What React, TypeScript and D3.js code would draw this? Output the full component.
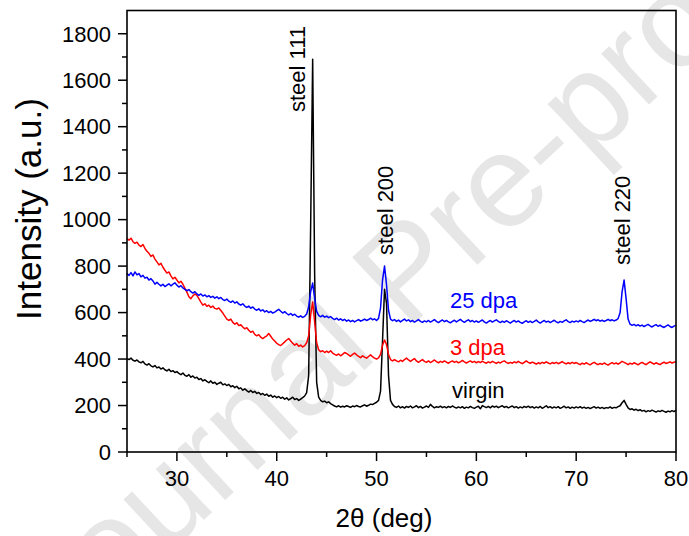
import React from 'react';
import * as d3 from 'd3';

// 2θ sampling grid: start 25°, step 0.2°, 276 points (25 … 80)
const X_START = 25;
const X_STEP = 0.2;

const virgin = [
  402,398,404,395,391, 396,388,384,390,379, 374,380,371,366,372, 362,366,357,362,354, 349,356,346,350,342,
  346,338,333,340,330, 326,333,322,327,318, 322,312,316,306,311, 304,298,306,296,300, 291,296,300,289,293,
  286,291,281,285,277, 283,272,276,266,272, 264,258,265,256,261, 252,256,247,252,244, 249,240,245,236,241,
  234,239,231,236,227, 233,224,230,236,226, 230,222,228,234,241, 256,330,980,1690,760, 300,236,222,216,219,
  212,216,208,203,198, 194,199,193,197,194, 199,196,192,198,195, 200,196,194,199,203, 197,201,206,204,209,
  214,222,262,480,700, 640,330,222,205,196, 192,198,190,195,189, 196,192,198,190,194, 199,191,196,189,193,
  198,192,205,196,190, 195,192,197,191,195, 190,196,192,198,193, 189,194,190,195,188, 193,190,196,191,188,
  193,197,186,200,195, 191,196,190,198,193, 197,191,195,199,192, 196,190,194,198,191, 195,189,194,190,196,
  192,197,191,195,189, 194,190,196,188,193, 199,191,195,189,194, 190,195,188,192,197, 190,194,188,193,189,
  194,190,195,189,193, 188,192,187,191,195, 189,193,188,192,187, 191,189,194,188,192, 190,195,199,212,222,
  205,190,183,186,180, 184,178,182,176,179, 173,178,175,180,176, 172,177,174,179,175, 171,176,173,178,174,
  180,
];

const dpa3 = [
  918,912,920,905,898, 903,890,884,893,876, 864,855,842,848,830, 818,805,812,795,782, 770,775,758,745,752,
  740,728,735,722,705, 688,668,660,672,680, 674,660,645,632,638, 627,632,622,628,618, 615,620,609,598,585,
  572,566,572,558,550, 556,544,548,538,530, 535,524,515,520,506, 500,505,494,488,494, 500,510,498,486,478,
  468,462,458,466,474, 482,488,478,468,460, 466,455,460,452,458, 470,500,590,646,560, 470,440,432,436,428,
  434,428,436,426,420, 416,422,414,420,428, 424,418,412,420,426, 418,412,406,414,408, 404,411,418,410,404,
  400,405,420,460,482, 462,420,398,392,398, 392,388,395,390,398, 404,396,390,396,402, 392,386,392,398,390,
  386,392,385,390,396, 389,384,390,386,392, 387,382,388,392,386, 390,384,388,394,388, 383,388,392,386,390,
  384,389,385,391,386, 382,388,384,390,386, 381,387,383,389,392, 386,381,386,382,388, 384,390,385,380,386,
  392,386,382,387,383, 378,384,380,386,382, 388,383,379,385,381, 386,380,384,389,383, 379,384,380,386,381,
  385,380,376,382,378, 384,379,375,381,386, 380,376,381,377,383, 378,374,380,385,379, 383,378,384,390,386,
  381,376,382,378,384, 380,375,381,386,380, 376,382,388,383,378, 384,380,376,382,387, 381,384,388,383,386,
  389,
];

const dpa25 = [
  768,760,772,758,775, 762,768,754,760,748, 752,740,746,736,722, 730,722,715,722,712, 718,724,715,722,728,
  718,710,716,706,700, 694,699,690,684,690, 680,674,680,671,676, 668,673,665,670,662, 668,660,665,656,652,
  658,649,644,650,641, 646,637,632,638,628, 622,628,619,624,615, 610,616,607,612,603, 608,600,605,598,602,
  608,614,606,598,604, 596,590,596,588,593, 585,580,586,579,584, 594,625,690,727,660, 605,588,582,588,580,
  585,578,583,575,570, 576,568,573,566,571, 563,568,561,566,560, 565,570,563,567,572, 566,570,576,569,573,
  566,575,620,740,800, 720,610,572,565,570, 562,568,560,566,572, 564,569,561,566,559, 564,570,562,558,564,
  560,566,559,564,570, 562,557,563,568,561, 566,560,556,562,567, 560,565,571,563,558, 564,569,561,566,559,
  564,558,563,568,560, 555,561,566,559,564, 569,562,557,563,558, 565,560,555,561,566, 559,564,558,554,560,
  565,558,563,557,562, 568,560,555,561,566, 559,563,557,562,567, 560,556,562,558,564, 569,561,557,563,559,
  564,560,566,561,557, 563,568,562,566,571, 565,569,563,567,562, 566,571,565,569,564, 568,574,600,690,740,
  660,572,550,545,549, 543,548,542,546,540, 545,549,543,538,544, 548,541,546,540,536, 542,547,540,536,542,
  546,
];

const seriesNames = ['virgin', '3 dpa', '25 dpa'];
const seriesColors = ['#000000', '#ff0000', '#0000ff'];
const seriesValues = [virgin, dpa3, dpa25];
// label anchor positions in data units (2θ, intensity)
const seriesLabelX = [57.56, 57.36, 57.36];
const seriesLabelY = [232, 417, 620];

const peakNames = ['steel 111', 'steel 200', 'steel 220'];
const peakLabelX = [42.83, 51.65, 75.39];
const peakLabelY = [1463, 848, 805];

const xMajorTicks = [30, 40, 50, 60, 70, 80];
const xMinorTicks = [25, 35, 45, 55, 65, 75];
const yMajorTicks = [0, 200, 400, 600, 800, 1000, 1200, 1400, 1600, 1800];
const yMinorTicks = [100, 300, 500, 700, 900, 1100, 1300, 1500, 1700];

const X_DOMAIN: [number, number] = [25, 80];
const Y_DOMAIN: [number, number] = [0, 1900];
const X_TITLE = '2θ (deg)';
const Y_TITLE = 'Intensity (a.u.)';
const WATERMARK = 'Journal Pre-proof';

const W = 689;
const H = 536;
const FONT = '"Liberation Sans", Arial, Helvetica, sans-serif';

export default function App() {
  const left = 127, right = 676, top = 10.5, bottom = 452;
  const x = d3.scaleLinear().domain(X_DOMAIN).range([left, right]);
  const y = d3.scaleLinear().domain(Y_DOMAIN).range([bottom, top]);

  const line = d3
    .line<number>()
    .x((_, i) => x(X_START + i * X_STEP))
    .y((d) => y(d));

  return (
    <svg
      width={W}
      height={H}
      viewBox={`0 0 ${W} ${H}`}
      style={{ position: 'absolute', left: 0, top: 0, background: '#fff' }}
      fontFamily={FONT}
    >
      <rect x={0} y={0} width={W} height={H} fill="#fff" />
      <text
        transform="translate(412,278) rotate(-43)"
        textAnchor="middle"
        dominantBaseline="middle"
        fontSize={132}
        fill="#e6e6e6"
      >
        {WATERMARK}
      </text>

      {/* data */}
      <g fill="none" strokeWidth={1.5} strokeLinejoin="round">
        {seriesValues.map((vals, k) => (
          <path key={k} d={line(vals) || ''} stroke={seriesColors[k]} />
        ))}
      </g>

      {/* frame */}
      <rect
        x={left}
        y={top}
        width={right - left}
        height={bottom - top}
        fill="none"
        stroke="#000"
        strokeWidth={1.6}
      />

      {/* x ticks */}
      <g stroke="#000" strokeWidth={1.5}>
        {xMajorTicks.map((t) => (
          <line key={'xM' + t} x1={x(t)} x2={x(t)} y1={bottom} y2={bottom + 9} />
        ))}
        {xMinorTicks.map((t) => (
          <line key={'xm' + t} x1={x(t)} x2={x(t)} y1={bottom} y2={bottom + 5} />
        ))}
        {yMajorTicks.map((t) => (
          <line key={'yM' + t} x1={left - 9} x2={left} y1={y(t)} y2={y(t)} />
        ))}
        {yMinorTicks.map((t) => (
          <line key={'ym' + t} x1={left - 5} x2={left} y1={y(t)} y2={y(t)} />
        ))}
      </g>
      <g fontSize={22} fill="#000">
        {xMajorTicks.map((t) => (
          <text key={'xl' + t} x={x(t)} y={486} textAnchor="middle">
            {t}
          </text>
        ))}
        {yMajorTicks.map((t) => (
          <text key={'yl' + t} x={111} y={y(t) + 7.8} textAnchor="end">
            {t}
          </text>
        ))}
      </g>

      {/* axis titles */}
      <text x={384} y={527} textAnchor="middle" fontSize={26} fill="#000">
        {X_TITLE}
      </text>
      <text
        transform={`translate(41,209) rotate(-90)`}
        textAnchor="middle"
        fontSize={35}
        fill="#000"
      >
        {Y_TITLE}
      </text>

      {/* peak labels */}
      {peakNames.map((p, i) => (
        <text
          key={p}
          transform={`translate(${x(peakLabelX[i])},${y(peakLabelY[i])}) rotate(-90)`}
          fontSize={22}
          fill="#000"
        >
          {p}
        </text>
      ))}

      {/* series labels */}
      {seriesNames.map((s, k) => (
        <text
          key={s}
          x={x(seriesLabelX[k])}
          y={y(seriesLabelY[k])}
          fontSize={22}
          fill={seriesColors[k]}
        >
          {s}
        </text>
      ))}
    </svg>
  );
}
